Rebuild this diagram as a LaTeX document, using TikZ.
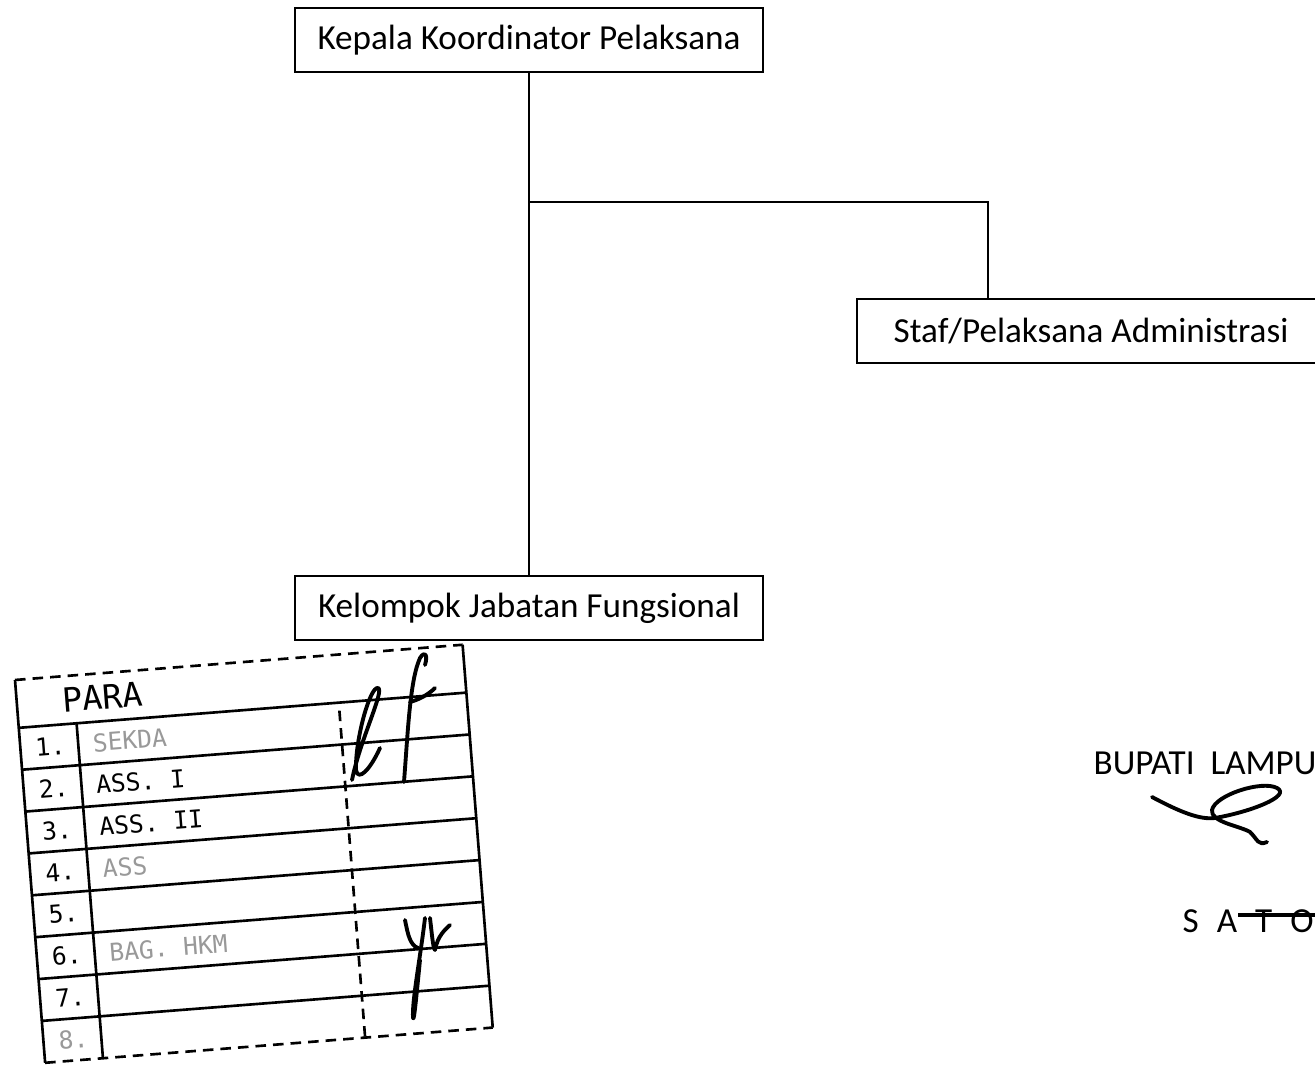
\documentclass[tikz,border=0pt]{standalone}
\usepackage{fontspec}
\setmainfont{Carlito}
\newfontfamily\stampfont{DejaVu Sans Mono}
\usepackage{tikz}
\usetikzlibrary{positioning}

\tikzset{
  orgbox/.style={draw, line width=0.6pt, minimum width=4.68cm, minimum height=0.64cm,
    inner sep=0pt, font=\fontsize{10}{12}\selectfont},
  garis/.style={line width=0.6pt},
  stampgaris/.style={line width=0.75pt},
  stamptitik/.style={line width=0.75pt, densely dashed},
  ttd/.style={line width=1.1pt, line cap=round, line join=round},
  stampteks/.style={font=\stampfont\fontsize{7}{8}\selectfont, inner sep=0pt},
  pudar/.style={stampteks, text=black!40}
}

\begin{document}
\begin{tikzpicture}[x=0.01cm, y=-0.01cm]

\useasboundingbox (0,0) rectangle (1315,1068);

% ============================
% BOXES
% ============================

\node[orgbox] (kepala) at (529,40) {Kepala Koordinator Pelaksana};
\node[orgbox] (staf) at (1091,331) {Staf/Pelaksana Administrasi};
\node[orgbox] (kelompok) at (529,608) {Kelompok Jabatan Fungsional};

% ============================
% LINES
% ============================

\coordinate (cabang) at (529,202);
\coordinate (turun) at (988,202);

\draw[garis] (kepala.south) -- (kelompok.north);
\draw[garis] (cabang) -- (turun) -- (turun |- staf.north);

% ============================
% SIGNATURE BLOCK
% ============================

\node[anchor=base west, font=\fontsize{10}{12}\selectfont, inner sep=0pt] (bupati) at (1093,775) {BUPATI\ \ LAMPU};
\node[anchor=base west, font=\fontsize{10}{12}\selectfont, inner sep=0pt] (sato) at (1182,933) {S\hspace{1.8mm}A\hspace{1.8mm}T\hspace{1.8mm}O};

\coordinate (coret) at (1238,915);
\draw[line width=0.9pt] (coret) -- ++(90,0);

\draw[ttd] (1152,797) .. controls (1180,812) and (1200,820) .. (1215,818)
  .. controls (1250,812) and (1292,796) .. (1277,788)
  .. controls (1262,780) and (1215,795) .. (1212,810)
  .. controls (1210,822) and (1240,826) .. (1250,832)
  .. controls (1258,840) and (1258,846) .. (1267,842);

% ============================
% PARAF STAMP (tilted)
% ============================

\begin{scope}[shift={(15,680)}, rotate=4.5, transform shape]

  % outer frame
  \draw[stamptitik] (0,0) -- (449,0);
  \draw[stampgaris] (449,0) -- (449,384);
  \draw[stamptitik] (0,384) -- (449,384);
  \draw[stampgaris] (0,0) -- (0,384);

  % rows
  \foreach \k in {0,...,7} {
    \draw[stampgaris] (0,{48+42*\k}) -- (449,{48+42*\k});
  }

  % columns
  \draw[stampgaris] (58,48) -- (58,384);
  \draw[stamptitik] (321,56) -- (321,384);

  \node[anchor=west, font=\stampfont\fontsize{9.5}{11}\selectfont, inner sep=0pt] (paraf) at (45,24) {PARA};

  % numbers
  \foreach \n in {1,...,7} {
    \node[stampteks] (no\n) at (30,{27+42*\n}) {\n.};
  }
  \node[pudar] (no8) at (30,363) {8.};

  % names
  \node[pudar, anchor=west] (sekda) at (72,69) {SEKDA};
  \node[stampteks, anchor=west] (ass1) at (72,111) {ASS. I};
  \node[stampteks, anchor=west] (ass2) at (72,153) {ASS. II};
  \node[pudar, anchor=west] (ass3) at (72,195) {ASS};
  \node[pudar, anchor=west] (baghkm) at (72,279) {BAG. HKM};

\end{scope}

% paraf strokes
\draw[ttd] (352,780) .. controls (360,740) and (385,690) .. (378,688)
  .. controls (370,686) and (355,740) .. (356,770)
  .. controls (358,782) and (370,770) .. (380,748);
\draw[ttd] (404,782) .. controls (408,730) and (410,680) .. (420,658)
  .. controls (425,650) and (428,655) .. (425,665);
\draw[ttd] (410,702) .. controls (418,700) and (428,695) .. (435,688);

\draw[ttd] (405,920) .. controls (408,935) and (410,945) .. (418,948);
\draw[ttd] (425,918) .. controls (420,960) and (412,1000) .. (413,1018)
  .. controls (414,1022) and (416,1000) .. (420,960);
\draw[ttd] (430,918) .. controls (432,935) and (433,948) .. (435,950)
  .. controls (438,935) and (445,930) .. (450,925);

\end{tikzpicture}
\end{document}
